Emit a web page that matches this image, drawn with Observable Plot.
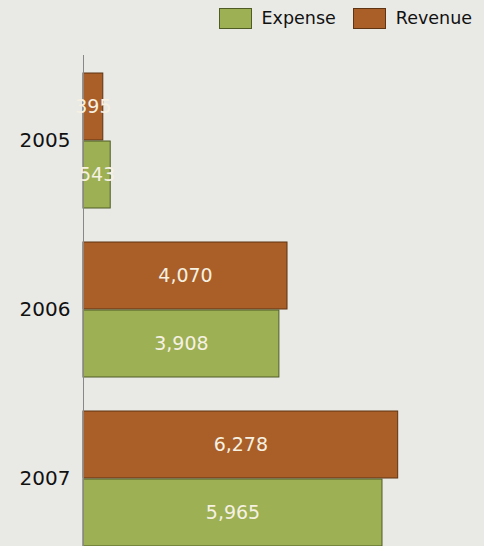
<!DOCTYPE html>
<html>
<head>
<meta charset="utf-8">
<script src="https://cdn.jsdelivr.net/npm/d3@7"></script>
<script src="https://cdn.jsdelivr.net/npm/@observablehq/plot@0.6"></script>
<style>
  html, body { margin: 0; padding: 0; background: #e9e9e6; overflow: hidden; width: 484px; height: 546px; }
  #legend { height: 40px; display: flex; justify-content: flex-end; align-items: flex-start; padding-top: 8px; padding-right: 12px; box-sizing: border-box; font-family: "DejaVu Sans", sans-serif; font-size: 17.5px; line-height: 21px; color: #111; }
  .item { display: flex; align-items: center; margin-left: 17px; }
  .sw { width: 33px; height: 21px; box-sizing: border-box; margin-right: 10px; }
  svg { display: block; }
</style>
</head>
<body>
<div id="legend"></div>
<div id="chart"></div>
<script>
const years = ["2005", "2006", "2007"];
const series = ["Expense", "Revenue"];
const revenue = [395, 4070, 6278];
const expense = [543, 3908, 5965];
const fills = {Expense: "#9db054", Revenue: "#a95f27"};
const strokes = {Expense: "#4f5d25", Revenue: "#5e3412"};

const data = [];
years.forEach((y, i) => {
  data.push({year: y, series: "Revenue", value: revenue[i]});
  data.push({year: y, series: "Expense", value: expense[i]});
});

// legend
const lg = document.getElementById("legend");
series.forEach(s => {
  const it = document.createElement("div");
  it.className = "item";
  const sw = document.createElement("div");
  sw.className = "sw";
  sw.style.background = fills[s];
  sw.style.border = "1px solid " + strokes[s];
  const t = document.createElement("span");
  t.textContent = s;
  it.appendChild(sw); it.appendChild(t);
  lg.appendChild(it);
});

const half = 68;
const fmt = d3.format(",");
const rev = data.filter(d => d.series === "Revenue");
const exp = data.filter(d => d.series === "Expense");

const chart = Plot.plot({
  width: 484,
  height: 524,
  marginTop: 15,
  marginBottom: 0,
  marginLeft: 83,
  marginRight: 0,
  style: {background: "transparent", fontFamily: "DejaVu Sans, sans-serif"},
  x: {domain: [0, 8000], axis: null},
  y: {domain: years, paddingInner: 0.2, paddingOuter: 0.1, axis: null},
  marks: [
    Plot.axisY({tickSize: 0, tickPadding: 13, fontSize: 20, fill: "#111", label: null}),
    Plot.barX(rev, {x: "value", y: "year", fill: fills.Revenue, stroke: strokes.Revenue, strokeWidth: 1, insetBottom: half}),
    Plot.barX(exp, {x: "value", y: "year", fill: fills.Expense, stroke: strokes.Expense, strokeWidth: 1, insetTop: half}),
    Plot.ruleX([0], {stroke: "#888", strokeWidth: 1}),
    Plot.text(rev, {x: d => d.value / 2, y: "year", text: d => fmt(d.value), dy: -34, fill: "#f6f1e2", fontSize: 19}),
    Plot.text(exp, {x: d => d.value / 2, y: "year", text: d => fmt(d.value), dy: 34, fill: "#f6f1e2", fontSize: 19})
  ]
});
document.getElementById("chart").appendChild(chart);
</script>
</body>
</html>
